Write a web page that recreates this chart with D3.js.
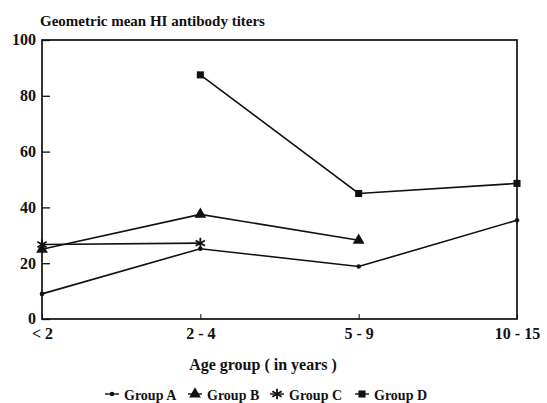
<!DOCTYPE html>
<html>
<head>
<meta charset="utf-8">
<script src="https://cdn.jsdelivr.net/npm/d3@7"></script>
<style>
  body { margin: 0; background: #fff; }
  text { font-family: "Liberation Serif", "DejaVu Serif", serif; font-weight: bold; fill: #111; }
</style>
</head>
<body>
<div id="chart"></div>
<script>
const margin = {top: 40, right: 30, bottom: 84, left: 42},
    width = 547 - margin.left - margin.right,
    height = 403 - margin.top - margin.bottom;

// data
const ageGroups = ["< 2", "2 - 4", "5 - 9", "10 - 15"];
const groupA = [9, 25.2, 18.8, 35.4];
const groupB = [25, 37.5, 28.2, null];
const groupC = [26.7, 27.2, null, null];
const groupD = [null, 87.5, 45, 48.6];
const yTicks = [0, 20, 40, 60, 80, 100];
const seriesNames = ["Group A", "Group B", "Group C", "Group D"];

const series = [
  {name: seriesNames[0], values: groupA, sym: "dot"},
  {name: seriesNames[1], values: groupB, sym: "tri"},
  {name: seriesNames[2], values: groupC, sym: "star"},
  {name: seriesNames[3], values: groupD, sym: "sq"}
];

const svg = d3.select("#chart").append("svg")
    .attr("width", 547).attr("height", 403);

const g = svg.append("g")
    .attr("transform", `translate(${margin.left},${margin.top})`);

const x = d3.scalePoint().domain(ageGroups).range([0, width]);
const y = d3.scaleLinear().domain([0, 100]).range([height, 0]);

// box
g.append("rect")
  .attr("width", width).attr("height", height)
  .attr("fill", "none").attr("stroke", "#111").attr("stroke-width", 1.7);

// y axis (ticks inside)
const yAxis = g.append("g")
  .call(d3.axisLeft(y).tickValues(yTicks).tickSize(-8));
yAxis.select(".domain").remove();
yAxis.selectAll("line").attr("stroke", "#111").attr("stroke-width", 1.3);
yAxis.selectAll("text")
  .style("font-size", "16px").style("font-family", "Liberation Serif").style("font-weight", "bold")
  .attr("x", -6).attr("dy", "0.3em");

// x axis
const xAxis = g.append("g")
  .attr("transform", `translate(0,${height})`)
  .call(d3.axisBottom(x).tickSize(-5));
xAxis.select(".domain").remove();
xAxis.selectAll("line").attr("stroke", "#111").attr("stroke-width", 1);
xAxis.selectAll("text")
  .style("font-size", "16px").style("font-family", "Liberation Serif").style("font-weight", "bold")
  .attr("y", 9);

// title
svg.append("text")
  .attr("x", 40).attr("y", 26)
  .style("font-size", "15px")
  .text("Geometric mean HI antibody titers");

// x label
svg.append("text")
  .attr("x", 263).attr("y", 370)
  .attr("text-anchor", "middle")
  .style("font-size", "16px")
  .text("Age group ( in years )");

function drawSymbol(sel, sym, cx, cy) {
  if (sym === "dot") {
    sel.append("circle").attr("cx", cx).attr("cy", cy).attr("r", 2.3).attr("fill", "#111");
  } else if (sym === "tri") {
    sel.append("path").attr("transform", `translate(${cx},${cy})`)
      .attr("d", d3.symbol(d3.symbolTriangle, 60)()).attr("fill", "#111");
  } else if (sym === "star") {
    sel.append("path").attr("transform", `translate(${cx},${cy})`)
      .attr("d", d3.symbol(d3.symbolAsterisk, 80)()).attr("stroke", "#111").attr("stroke-width", 1.8).attr("fill", "none");
  } else {
    sel.append("path").attr("transform", `translate(${cx},${cy})`)
      .attr("d", d3.symbol(d3.symbolSquare, 50)()).attr("fill", "#111");
  }
}

const line = d3.line()
  .defined(d => d.v != null)
  .x(d => x(d.k))
  .y(d => y(d.v));

series.forEach(s => {
  const pts = s.values.map((v, i) => ({k: ageGroups[i], v: v}));
  g.append("path")
    .datum(pts)
    .attr("d", line)
    .attr("fill", "none").attr("stroke", "#111").attr("stroke-width", 1.6);
  const mg = g.append("g");
  pts.filter(p => p.v != null).forEach(p => drawSymbol(mg, s.sym, x(p.k), y(p.v)));
});

// legend
const leg = svg.append("g").attr("transform", "translate(0,400)");
const legX = [105, 188, 270, 355];
series.forEach((s, i) => {
  const lg = leg.append("g").attr("transform", `translate(${legX[i]},0)`);
  lg.append("line").attr("x1", 0).attr("x2", 14).attr("y1", -6).attr("y2", -6)
    .attr("stroke", "#111").attr("stroke-width", 1.4);
  drawSymbol(lg, s.sym, 7, -6);
  lg.append("text").attr("x", 19).attr("y", 0)
    .style("font-size", "14px").text(s.name);
});
</script>
</body>
</html>
